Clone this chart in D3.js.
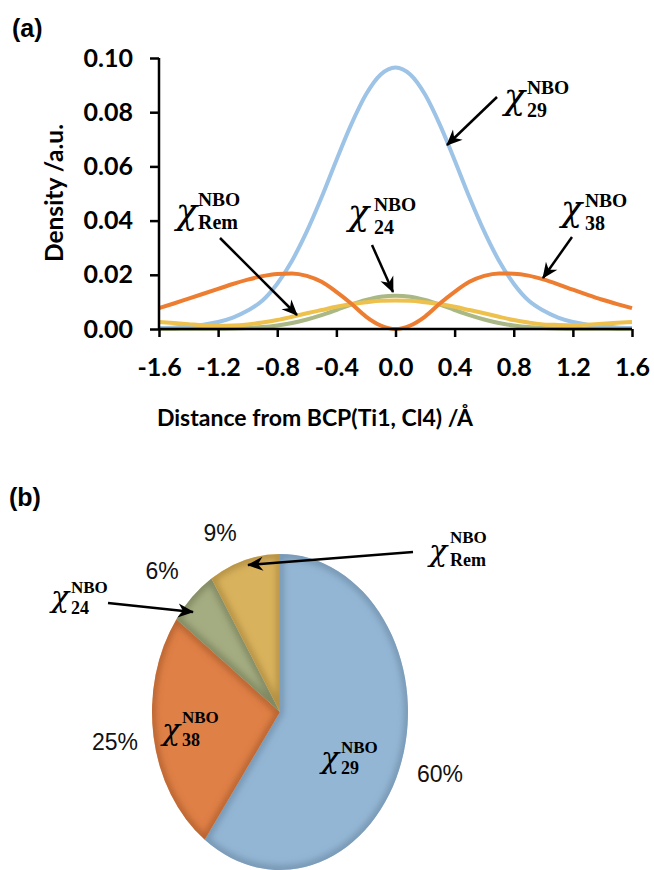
<!DOCTYPE html>
<html>
<head>
<meta charset="utf-8">
<script src="https://cdn.jsdelivr.net/npm/d3@7"></script>
<style>
  body { margin: 0; background: #fff; }
  svg { display: block; }
</style>
</head>
<body>
<svg id="fig" width="654" height="870"></svg>
<script>
// ---- (a) density profiles along the Ti1–Cl4 bond path ----
const distance = [-1.6, -1.5, -1.4, -1.3, -1.2, -1.1, -1.0, -0.9, -0.8, -0.7, -0.6, -0.5, -0.4, -0.3, -0.2, -0.1,
                  0.0, 0.1, 0.2, 0.3, 0.4, 0.5, 0.6, 0.7, 0.8, 0.9, 1.0, 1.1, 1.2, 1.3, 1.4, 1.5, 1.6];
const chi29 = [0.0004, 0.0006, 0.0010, 0.0016, 0.0026, 0.0042, 0.0068, 0.0105, 0.0167, 0.0252, 0.0360, 0.0486, 0.0623, 0.0754, 0.0865, 0.0939,
               0.0965, 0.0939, 0.0865, 0.0754, 0.0623, 0.0486, 0.0360, 0.0252, 0.0167, 0.0105, 0.0068, 0.0042, 0.0026, 0.0016, 0.0010, 0.0006, 0.0004];
const chi38 = [0.0077, 0.0094, 0.0112, 0.0130, 0.0148, 0.0166, 0.0182, 0.0195, 0.0203, 0.0205, 0.0196, 0.0174, 0.0137, 0.0094, 0.0046, 0.0013,
               0.0000, 0.0013, 0.0046, 0.0094, 0.0137, 0.0174, 0.0196, 0.0205, 0.0204, 0.0197, 0.0183, 0.0165, 0.0145, 0.0126, 0.0108, 0.0092, 0.0077];
const chi24 = [0.0000, 0.0000, 0.0001, 0.0001, 0.0001, 0.0002, 0.0004, 0.0007, 0.0013, 0.0022, 0.0035, 0.0051, 0.0070, 0.0090, 0.0107, 0.0119,
               0.0123, 0.0119, 0.0107, 0.0090, 0.0070, 0.0051, 0.0035, 0.0022, 0.0013, 0.0007, 0.0004, 0.0002, 0.0001, 0.0001, 0.0001, 0.0000, 0.0000];
const chiRem = [0.0026, 0.0022, 0.0018, 0.0014, 0.0012, 0.0013, 0.0017, 0.0024, 0.0033, 0.0045, 0.0058, 0.0070, 0.0082, 0.0092, 0.0099, 0.0104,
                0.0105, 0.0104, 0.0099, 0.0092, 0.0082, 0.0070, 0.0058, 0.0045, 0.0033, 0.0024, 0.0017, 0.0015, 0.0014, 0.0016, 0.0019, 0.0023, 0.0026];
const xTicks = [-1.6, -1.2, -0.8, -0.4, 0.0, 0.4, 0.8, 1.2, 1.6];
const yTicks = [0.00, 0.02, 0.04, 0.06, 0.08, 0.10];

// ---- (b) share of each orbital ----
const pieOrbitals = ["29", "38", "24", "Rem"];
const pieShares = [60, 25, 6, 9];

const lineColors = { "29": "#9dc3e6", "38": "#ed7d31", "24": "#a9b884", "Rem": "#eec04c" };
const sliceColors = { "29": "#93b6d4", "38": "#df8047", "24": "#a4ac81", "Rem": "#d9b25d" };
const sliceEdges = { "29": "#6b8aa6", "38": "#a8582a", "24": "#747b55", "Rem": "#a5843a" };

const svg = d3.select("#fig");
const tickFont = "Lato, 'Open Sans', sans-serif";

// arrowhead marker
const defs = svg.append("defs");
defs.append("marker")
  .attr("id", "head")
  .attr("viewBox", "-16 -8 18 16")
  .attr("refX", 0).attr("refY", 0)
  .attr("markerWidth", 18).attr("markerHeight", 16)
  .attr("markerUnits", "userSpaceOnUse")
  .attr("orient", "auto")
  .append("path")
  .attr("d", "M1,0 L-15,-7 L-10,0 L-15,7 Z")
  .attr("fill", "#000");

// panel letters
svg.append("text").attr("x", 12).attr("y", 37).text("(a)")
  .attr("font-family", "'Liberation Sans', Arial, sans-serif").attr("font-weight", "bold").attr("font-size", 25);
svg.append("text").attr("x", 9).attr("y", 506).text("(b)")
  .attr("font-family", "'Liberation Sans', Arial, sans-serif").attr("font-weight", "bold").attr("font-size", 25);

// ---------- panel (a) ----------
const x = d3.scaleLinear().domain([-1.6, 1.6]).range([159, 632]);
const y = d3.scaleLinear().domain([0, 0.10]).range([329, 58]);

const line = d3.line()
  .x((d, i) => x(distance[i]))
  .y(d => y(d))
  .curve(d3.curveMonotoneX);

const series = [
  { key: "29", values: chi29 },
  { key: "24", values: chi24 },
  { key: "Rem", values: chiRem },
  { key: "38", values: chi38 }
];
const plot = svg.append("g");
plot.selectAll("path.curve").data(series).join("path")
  .attr("class", "curve")
  .attr("d", d => line(d.values))
  .attr("fill", "none")
  .attr("stroke", d => lineColors[d.key])
  .attr("stroke-width", 4)
  .attr("stroke-linejoin", "round");

const xAxis = svg.append("g").attr("transform", `translate(0,${y(0)})`)
  .call(d3.axisBottom(x).tickValues(xTicks).tickSize(8).tickPadding(21).tickFormat(d => d.toFixed(1)));
const yAxis = svg.append("g").attr("transform", `translate(${x(-1.6)},0)`)
  .call(d3.axisLeft(y).tickValues(yTicks).tickSize(9).tickPadding(17).tickFormat(d => d.toFixed(2)));
[xAxis, yAxis].forEach(a => {
  a.select(".domain").attr("stroke", "#000").attr("stroke-width", 2.5);
  a.selectAll(".tick line").attr("stroke", "#000").attr("stroke-width", 2.5);
  a.selectAll(".tick text").attr("font-family", tickFont).attr("font-weight", "bold")
    .attr("font-size", 25).attr("fill", "#000");
});
xAxis.select(".domain").attr("d", `M${x(-1.6)},0H${x(1.6)}`);
yAxis.select(".domain").attr("d", `M0,${y(0.10)}V${y(0)}`);

svg.append("text").attr("x", 315).attr("y", 426).attr("text-anchor", "middle")
  .attr("font-family", tickFont).attr("font-weight", "bold").attr("font-size", 23)
  .text("Distance from BCP(Ti1, Cl4) /Å");
svg.append("text").attr("transform", "translate(63,193) rotate(-90)").attr("text-anchor", "middle")
  .attr("font-family", tickFont).attr("font-weight", "bold").attr("font-size", 24.5)
  .text("Density /a.u.");

// χ label as one text element: χ, then NBO superscript and orbital subscript stacked
function chiLabel(chiX, chiY, scriptX, supY, subY, sub, s) {
  const t = svg.append("text").attr("x", chiX).attr("y", chiY);
  t.append("tspan").text("χ")
    .attr("font-family", "'DejaVu Serif', serif").attr("font-style", "italic").attr("font-size", s.chi);
  t.append("tspan").attr("x", scriptX).attr("y", supY).text("NBO")
    .attr("font-family", "'Liberation Serif', serif").attr("font-weight", "bold").attr("font-size", s.sup);
  t.append("tspan").attr("x", scriptX).attr("y", subY).text(sub)
    .attr("font-family", "'Liberation Serif', serif").attr("font-weight", "bold").attr("font-size", s.sub);
}
function arrow(x1, y1, x2, y2) {
  svg.append("line").attr("x1", x1).attr("y1", y1).attr("x2", x2).attr("y2", y2)
    .attr("stroke", "#000").attr("stroke-width", 2.5).attr("marker-end", "url(#head)");
}

const bigLabel = { chi: 35, sup: 19.5, sub: 20 };
chiLabel(504, 109, 527, 93.5, 116.5, "29", bigLabel);
chiLabel(176, 224, 198, 206, 229, "Rem", bigLabel);
chiLabel(348, 225, 374, 210.5, 233.5, "24", bigLabel);
chiLabel(561, 221, 585, 206.5, 229.5, "38", bigLabel);
arrow(497, 97, 447, 145);
arrow(220, 238, 297, 315);
arrow(372, 245, 393, 292);
arrow(572, 237, 543, 278);

// ---------- panel (b) ----------
const cx = 280, cy = 712, rx = 128, ry = 158;
const pie = d3.pie().sort(null).value(d => d.share);
const arcs = pie(pieOrbitals.map((k, i) => ({ key: k, share: pieShares[i] })));
const arc = d3.arc().innerRadius(0).outerRadius(rx);

defs.append("filter").attr("id", "soft").attr("x", "-20%").attr("y", "-20%").attr("width", "140%").attr("height", "140%")
  .append("feGaussianBlur").attr("stdDeviation", 3);

const pieG = svg.append("g").attr("transform", `translate(${cx},${cy}) scale(1,${ry / rx})`);
arcs.forEach((a, i) => {
  const id = "clip" + i;
  defs.append("clipPath").attr("id", id).attr("clipPathUnits", "userSpaceOnUse")
    .attr("transform", `translate(${cx},${cy}) scale(1,${ry / rx})`)
    .append("path").attr("d", arc(a));
  pieG.append("path").attr("d", arc(a)).attr("fill", sliceColors[a.data.key]);
});
// soft darkened rims inside each slice
arcs.forEach((a, i) => {
  svg.append("g").attr("clip-path", `url(#clip${i})`)
    .append("path").attr("transform", `translate(${cx},${cy}) scale(1,${ry / rx})`)
    .attr("d", arc(a)).attr("fill", "none")
    .attr("stroke", sliceEdges[a.data.key]).attr("stroke-width", 7).attr("stroke-opacity", 0.75)
    .attr("filter", "url(#soft)");
});

const pctFont = "'Liberation Sans', Arial, sans-serif";
const pctPos = [[440, 782], [115, 750], [162, 579], [220, 541]];
pieShares.forEach((v, i) => {
  svg.append("text").attr("x", pctPos[i][0]).attr("y", pctPos[i][1]).attr("text-anchor", "middle")
    .attr("font-family", pctFont).attr("font-size", 23).attr("fill", "#111").text(v + "%");
});

const smallLabel = { chi: 30, sup: 17, sub: 18 };
chiLabel(321, 768, 341, 752.5, 773.5, "29", smallLabel);
chiLabel(162, 740, 182, 722.5, 745.5, "38", smallLabel);
chiLabel(51, 607, 71, 592.5, 613.5, "24", smallLabel);
chiLabel(429, 561, 450, 542.5, 565.5, "Rem", smallLabel);
arrow(413, 552, 248, 565);
arrow(108, 603, 193, 612);
</script>
</body>
</html>
